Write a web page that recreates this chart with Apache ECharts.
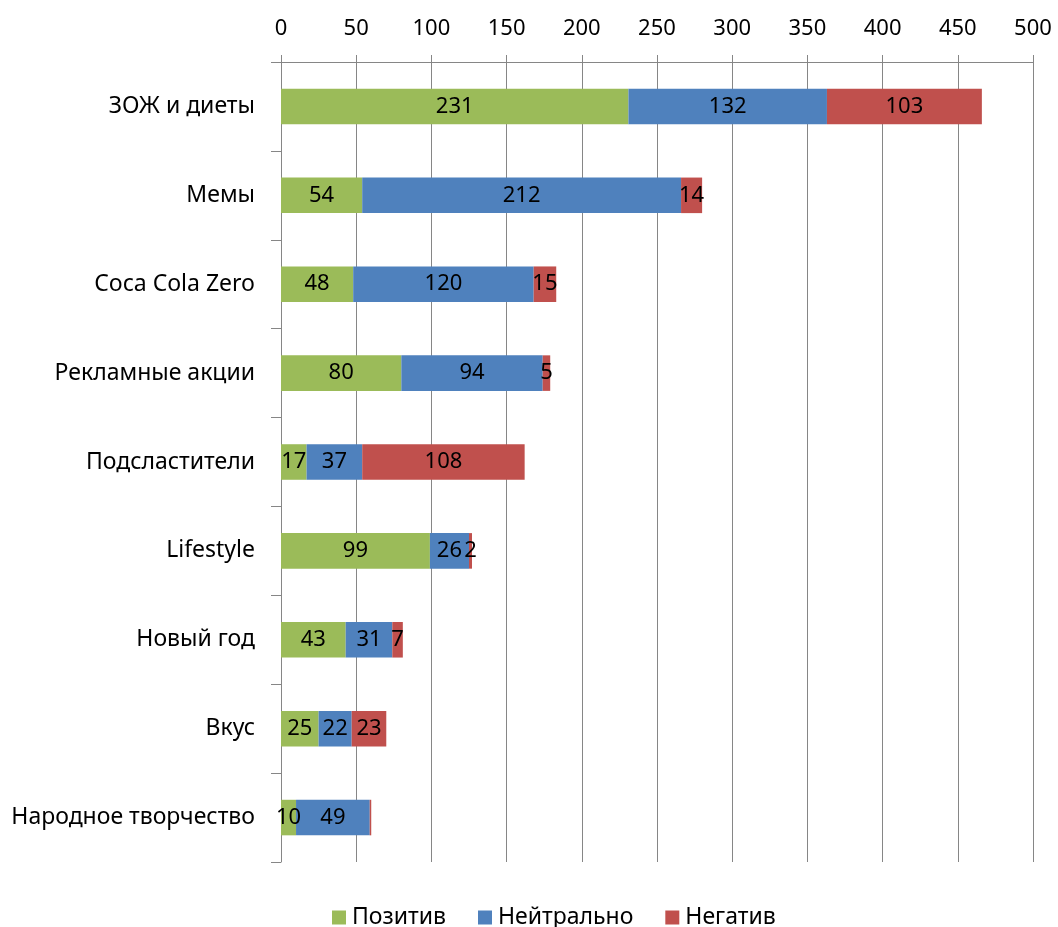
<!DOCTYPE html>
<html>
<head>
<meta charset="utf-8">
<script src="https://cdn.jsdelivr.net/npm/echarts@6/dist/echarts.min.js"></script>
<style>
  html, body { margin: 0; padding: 0; background: #fff; }
  #chart { width: 1058px; height: 927px; }
</style>
</head>
<body>
<div id="chart"></div>
<script>
// Topics, top to bottom
const categories = ['ЗОЖ и диеты', 'Мемы', 'Coca Cola Zero', 'Рекламные акции', 'Подсластители', 'Lifestyle', 'Новый год', 'Вкус', 'Народное творчество'];
const positive = [231, 54, 48, 80, 17, 99, 43, 25, 10];
const neutral  = [132, 212, 120, 94, 37, 26, 31, 22, 49];
const negative = [103, 14, 15, 5, 108, 2, 7, 23, 1];
// Negative value of the last topic is drawn without a label
const hiddenLabels = { 'Негатив': [8] };
const seriesNames = ['Позитив', 'Нейтрально', 'Негатив'];
const colors = ['#9BBB59', '#4F81BD', '#C0504D'];

const font = "'Noto Sans', 'Open Sans', sans-serif";

function makeSeries(name, values, color) {
  const hidden = hiddenLabels[name] || [];
  return {
    name: name,
    type: 'bar',
    stack: 'total',
    barWidth: '40%',
    itemStyle: { color: color },
    label: {
      show: true,
      position: 'inside',
      color: '#000',
      fontSize: 22,
      fontFamily: font
    },
    data: values.map((v, i) => hidden.includes(i) ? { value: v, label: { show: false } } : v)
  };
}

const chart = echarts.init(document.getElementById('chart'));
chart.setOption({
  animation: false,
  color: colors,
  grid: { left: 281, right: 25, top: 62, bottom: 65, containLabel: false },
  legend: {
    top: 901,
    left: 327,
    itemWidth: 14,
    itemHeight: 14,
    itemGap: 32,
    icon: 'rect',
    textStyle: { fontSize: 23, fontFamily: font, color: '#000', padding: [0, 0, 0, 1] },
    data: seriesNames
  },
  xAxis: {
    type: 'value',
    position: 'top',
    min: 0,
    max: 500,
    interval: 50,
    axisLine: { show: true, lineStyle: { color: '#868686' } },
    axisTick: { show: true, length: 7, lineStyle: { color: '#868686' } },
    splitLine: { show: true, lineStyle: { color: '#868686' } },
    axisLabel: { fontSize: 22, fontFamily: font, color: '#000', margin: 22 }
  },
  yAxis: {
    type: 'category',
    inverse: true,
    data: categories,
    axisLine: { show: true, lineStyle: { color: '#868686' } },
    axisTick: { show: true, length: 10, lineStyle: { color: '#868686' } },
    axisLabel: { fontSize: 23, fontFamily: font, color: '#000', margin: 26 }
  },
  series: [
    makeSeries(seriesNames[0], positive, colors[0]),
    makeSeries(seriesNames[1], neutral, colors[1]),
    makeSeries(seriesNames[2], negative, colors[2])
  ]
});
</script>
</body>
</html>
